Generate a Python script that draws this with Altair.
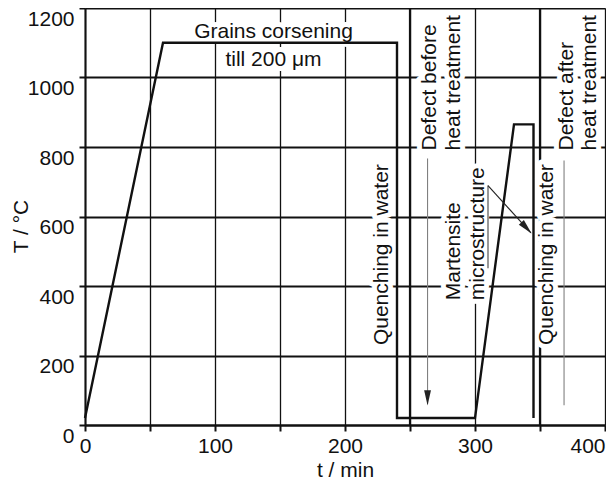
import altair as alt
import pandas as pd

FONT = "Liberation Sans, Arial, Helvetica, sans-serif"

# ---- process curve (t in min, T in degC) ----
time_min = [0, 60, 240, 240, 300, 330, 345, 345]
temp_c = [20, 1100, 1100, 20, 20, 865, 865, 20]

# ---- thick vertical marker lines ----
marker_t = [250, 350]
marker_lo = [0, 0]
marker_hi = [1200, 1200]

# ---- horizontal annotation texts ----
h_text = ["Grains corsening", "till 200 \u03bcm"]
h_t = [145, 145]
h_T = [1115, 1034]

# ---- rotated annotation texts (read bottom to top) ----
v_text = ["Quenching in water", "Quenching in water", "Defect before", "heat treatment",
          "Martensite", "microstructure", "Defect after", "heat treatment"]
v_t = [233, 360, 270, 288.5, 288.5, 307, 375.5, 393]
v_T = [230, 230, 790, 790, 359, 359, 790, 790]

# ---- pointer lines ----
ptr_t = [263.5, 368.5, 310, 310]
ptr_T = [767, 761, 689, 689]
ptr_t2 = [263.5, 368.5, 310, 343]
ptr_T2 = [60, 57, 451, 553]
ptr_col = ["#808080", "#808080", "#444444", "#222222"]

# ---- arrow heads ----
arrow_t = [263.5, 339.6]
arrow_T = [78, 567]
arrow_angle = [0, 317.5]

curve = pd.DataFrame({"t": time_min, "T": temp_c, "o": list(range(len(time_min)))})
markers = pd.DataFrame({"t": marker_t, "lo": marker_lo, "hi": marker_hi})
htxt = pd.DataFrame({"text": h_text, "t": h_t, "T": h_T})
vtxt = pd.DataFrame({"text": v_text, "t": v_t, "T": v_T})
ptrs = pd.DataFrame({"t": ptr_t, "T": ptr_T, "t2": ptr_t2, "T2": ptr_T2, "c": ptr_col})
arrows = pd.DataFrame({"t": arrow_t, "T": arrow_T, "a": arrow_angle})

xscale = alt.Scale(domain=[0, 400], nice=False, zero=False)
yscale = alt.Scale(domain=[0, 1200], nice=False, zero=False)

xaxis = alt.Axis(
    values=list(range(0, 401, 50)),
    labelExpr="datum.value % 100 === 0 ? datum.label : ''",
    format="d", title="t / min", grid=True, gridColor="#111111", gridWidth=1.3,
    tickSize=6, tickWidth=2, tickColor="#111111", domainColor="#111111", domainWidth=2,
    labelFont=FONT, labelFontSize=21, labelColor="#111111", labelPadding=4,
    labelOverlap=False, labelFlush=False,
    labelAlign={"condition": {"test": "datum.value === 400", "value": "right"}, "value": "center"},
    titleFont=FONT, titleFontSize=21, titleFontWeight="normal", titleColor="#111111",
    titleY=51, titleBaseline="alphabetic",
)
yaxis = alt.Axis(
    values=list(range(0, 1201, 200)), format="d", title="T / \u00b0C",
    grid=True, gridColor="#111111", gridWidth=2,
    tickSize=6, tickWidth=2, tickColor="#111111", domainColor="#111111", domainWidth=2,
    labelFont=FONT, labelFontSize=21, labelColor="#111111", labelPadding=5,
    labelBaseline="top", labelOverlap=False, labelFlush=False,
    titleFont=FONT, titleFontSize=21, titleFontWeight="normal", titleColor="#111111",
    titleAngle=270, titleX=-58, titleY=218, titleAlign="center", titleBaseline="alphabetic",
)

marker_layer = alt.Chart(markers).mark_rule(color="#111111", strokeWidth=2.2).encode(
    x=alt.X("t:Q", scale=xscale, axis=xaxis),
    y=alt.Y("lo:Q", scale=yscale, axis=yaxis),
    y2="hi:Q",
)

halo_kw = dict(font=FONT, fontSize=21, fill="white", stroke="white", strokeWidth=10,
               strokeJoin="round")
h_halo = alt.Chart(htxt).mark_text(align="center", baseline="alphabetic", **halo_kw).encode(
    x=alt.X("t:Q", scale=xscale), y=alt.Y("T:Q", scale=yscale), text="text:N")
v_halo = alt.Chart(vtxt).mark_text(align="left", baseline="alphabetic", angle=270, **halo_kw).encode(
    x=alt.X("t:Q", scale=xscale), y=alt.Y("T:Q", scale=yscale), text="text:N")

curve_layer = alt.Chart(curve).mark_line(color="#111111", strokeWidth=2.4, strokeJoin="miter").encode(
    x=alt.X("t:Q", scale=xscale), y=alt.Y("T:Q", scale=yscale), order="o:Q")

ptr_layer = alt.Chart(ptrs).mark_rule(strokeWidth=1.1).encode(
    x=alt.X("t:Q", scale=xscale), y=alt.Y("T:Q", scale=yscale),
    x2="t2:Q", y2="T2:Q", color=alt.Color("c:N", scale=None))

arrow_layer = alt.Chart(arrows).mark_point(
    shape="M -0.45 -1 L 0.45 -1 L 0 1 Z", filled=True, color="#222222", size=230, opacity=1
).encode(
    x=alt.X("t:Q", scale=xscale), y=alt.Y("T:Q", scale=yscale),
    angle=alt.Angle("a:Q", scale=None))

txt_kw = dict(font=FONT, fontSize=21, color="#111111")
h_txt = alt.Chart(htxt).mark_text(align="center", baseline="alphabetic", **txt_kw).encode(
    x=alt.X("t:Q", scale=xscale), y=alt.Y("T:Q", scale=yscale), text="text:N")
v_txt = alt.Chart(vtxt).mark_text(align="left", baseline="alphabetic", angle=270, **txt_kw).encode(
    x=alt.X("t:Q", scale=xscale), y=alt.Y("T:Q", scale=yscale), text="text:N")

chart = alt.layer(
    marker_layer, h_halo, v_halo, curve_layer, ptr_layer, arrow_layer, h_txt, v_txt
).properties(
    width=520, height=417,
    padding={"left": 77, "top": 0, "right": 1, "bottom": 57},
    autosize=alt.AutoSizeParams(type="none"),
).configure_view(
    stroke="#111111", strokeWidth=2
).configure(background="white")

chart.save("out.html", embed_options={"renderer": "svg", "actions": False})
